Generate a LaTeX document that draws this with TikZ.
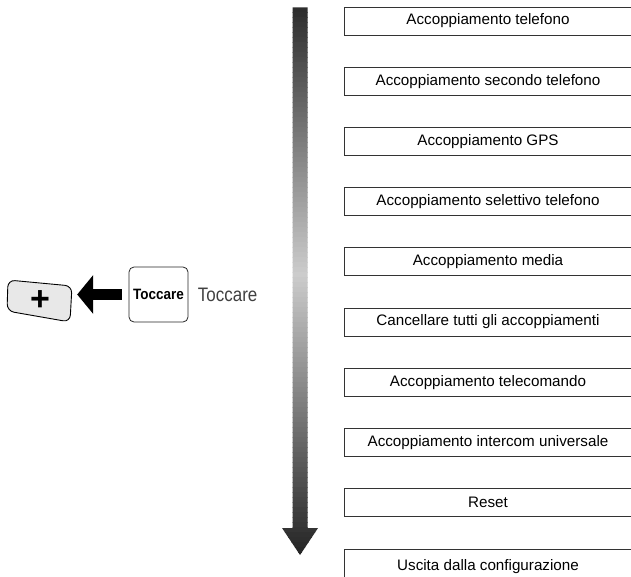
\documentclass[tikz,border=0pt]{standalone}
\usepackage{fontspec}
\setmainfont{Liberation Sans}
\usetikzlibrary{positioning,arrows.meta}

\begin{document}
\begin{tikzpicture}[x=1pt,y=-1pt,
  menubox/.style={draw=black!80, line width=0.8pt, minimum width=288pt, minimum height=28pt, inner sep=0pt, text=black, font=\fontsize{15.2}{17}\selectfont},
  blockarrow/.style={line width=11pt, -{Triangle[length=16pt 0 0,width=38pt 0 0]}}
]
\useasboundingbox (0,0) rectangle (631,577);
\clip (0,0) rectangle (631,577);
% menu entries
\foreach \txt [count=\i from 0] in {Accoppiamento telefono, Accoppiamento secondo telefono, Accoppiamento GPS, Accoppiamento selettivo telefono, Accoppiamento media, Cancellare tutti gli accoppiamenti, Accoppiamento telecomando, Accoppiamento intercom universale, Reset}
  \node[menubox] (item\i) at (488, 21+60.2*\i) {\txt};
\node[menubox, minimum height=36pt] (exit) at (488, 567) {Uscita dalla configurazione};
% shaded arrow, made of thin stripes
\begin{scope}
\clip (292.5,7.5) -- (307.5,7.5) -- (307.5,528) -- (318,528) -- (300,555) -- (282,528) -- (292.5,528) -- cycle;
\foreach \k in {0,...,111} {
  \pgfmathsetmacro{\shadeval}{88-68*(1-abs(\k-53)/58)}
  \fill[black!\shadeval] (280,7+5*\k) rectangle (320,12.6+5*\k);
}
\end{scope}
% button
\draw[fill=black!9, line width=0.9pt, rounded corners=7pt] (8,280) -- (72,286) -- (70,322) -- (7,311) -- cycle;
\node[minimum width=66pt, minimum height=36pt, font=\bfseries\fontsize{34}{34}\selectfont] (btn) at (40,301) {+};
\node[draw=black!85, line width=0.8pt, rounded corners=5pt, minimum width=59pt, minimum height=55pt, inner sep=0pt, font=\bfseries\fontsize{15}{15}\selectfont] (tap) at (158.5,294.5) {\scalebox{0.9}[1]{Toccare}};
\node[right=6pt of tap, text=black!75, font=\fontsize{19.5}{20}\selectfont] (taplabel) {\scalebox{0.87}[1]{Toccare}};
\draw[blockarrow] ([xshift=-7pt]tap.west) -- ([xshift=4pt]btn.east |- tap.west);
\end{tikzpicture}
\end{document}
